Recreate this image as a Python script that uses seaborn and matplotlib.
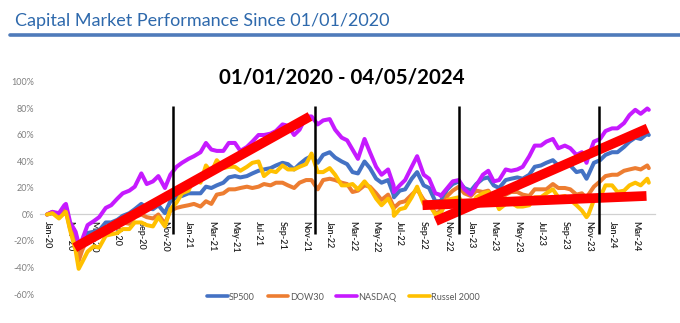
import matplotlib
matplotlib.use("Agg")
import matplotlib.pyplot as plt
import matplotlib.dates as mdates
from matplotlib.lines import Line2D
from matplotlib.ticker import PercentFormatter
import pandas as pd
import seaborn as sns

# ---------------- data (percent change since 01/01/2020) ----------------
dates = [
    # 2020
    "2020-01-01", "2020-01-15", "2020-02-01", "2020-02-15", "2020-02-19", "2020-03-01",
    "2020-03-15", "2020-03-23", "2020-04-01", "2020-04-15", "2020-05-01", "2020-05-15",
    "2020-06-01", "2020-06-15", "2020-07-01", "2020-07-15", "2020-08-01", "2020-08-15",
    "2020-09-01", "2020-09-15", "2020-10-01", "2020-10-15", "2020-11-01", "2020-11-15",
    "2020-12-01", "2020-12-15",
    # 2021
    "2021-01-01", "2021-01-15", "2021-02-01", "2021-02-15", "2021-03-01", "2021-03-15",
    "2021-04-01", "2021-04-15", "2021-05-01", "2021-05-15", "2021-06-01", "2021-06-15",
    "2021-07-01", "2021-07-15", "2021-08-01", "2021-08-15", "2021-09-01", "2021-09-15",
    "2021-10-01", "2021-10-15", "2021-11-01", "2021-11-15", "2021-12-01", "2021-12-15",
    # 2022
    "2022-01-01", "2022-01-15", "2022-02-01", "2022-02-15", "2022-03-01", "2022-03-15",
    "2022-04-01", "2022-04-15", "2022-05-01", "2022-05-15", "2022-06-01", "2022-06-15",
    "2022-06-16", "2022-07-01", "2022-07-15", "2022-08-01", "2022-08-15", "2022-09-01",
    "2022-09-15", "2022-10-01", "2022-10-12", "2022-10-15", "2022-11-01", "2022-11-15",
    "2022-12-01", "2022-12-15",
    # 2023
    "2023-01-01", "2023-01-15", "2023-02-01", "2023-02-15", "2023-03-01", "2023-03-15",
    "2023-04-01", "2023-04-15", "2023-05-01", "2023-05-15", "2023-06-01", "2023-06-15",
    "2023-07-01", "2023-07-15", "2023-08-01", "2023-08-15", "2023-09-01", "2023-09-15",
    "2023-10-01", "2023-10-15", "2023-10-27", "2023-11-01", "2023-11-15", "2023-12-01",
    "2023-12-15",
    # 2024
    "2024-01-01", "2024-01-15", "2024-02-01", "2024-02-15", "2024-03-01", "2024-03-15",
    "2024-04-01", "2024-04-05",
]

sp500 = [
    0, 1, -1, 4, 4, -9, -17, -31, -24, -14, -13, -12, -6, -6, -4, -1, 1, 4, 8, 5, 4, 7, 1, 10, 13, 14,
    16, 16, 16, 21, 20, 22, 24, 28, 29, 28, 29, 31, 33, 34, 35, 37, 39, 38, 34, 38, 42, 44, 39, 45,
    47, 43, 40, 38, 32, 31, 40, 35, 27, 24, 26, 15, 13, 18, 19, 27, 32, 22, 20, 10, 10, 10, 19, 23, 25, 20,
    18, 23, 27, 28, 22, 20, 26, 27, 28, 27, 30, 36, 37, 39, 41, 37, 39, 37, 32, 33, 27, 30, 39, 41, 45,
    47, 47, 51, 55, 58, 57, 61, 60,
]
dow30 = [
    0, 2, -1, 3, 3, -11, -19, -35, -27, -18, -17, -17, -11, -10, -10, -6, -7, -2, 0, -2, -3, 0, -7, 3, 5, 6,
    7, 8, 6, 10, 8, 15, 16, 19, 19, 20, 21, 20, 21, 23, 22, 24, 24, 22, 20, 24, 26, 26, 19, 26,
    27, 26, 24, 23, 17, 18, 22, 21, 16, 11, 15, 6, 5, 9, 10, 15, 19, 11, 8, 1, 2, 4, 14, 18, 21, 16,
    14, 18, 17, 18, 12, 10, 15, 17, 17, 15, 14, 19, 19, 19, 23, 20, 20, 19, 15, 16, 12, 15, 21, 25, 29,
    30, 30, 33, 34, 35, 34, 37, 35,
]
nasdaq = [
    0, 2, 1, 7, 8, -6, -13, -22, -19, -8, -5, -2, 5, 7, 12, 16, 18, 21, 31, 23, 25, 29, 20, 30, 36, 39,
    42, 44, 47, 54, 49, 48, 48, 54, 54, 48, 51, 55, 60, 60, 61, 63, 68, 67, 60, 64, 74, 74, 68, 71,
    72, 64, 58, 56, 49, 42, 57, 47, 36, 30, 34, 22, 17, 22, 26, 36, 44, 30, 27, 16, 15, 14, 20, 25, 26, 19,
    15, 22, 30, 33, 25, 26, 34, 33, 34, 36, 44, 52, 52, 55, 57, 50, 52, 50, 45, 47, 39, 44, 55, 57, 63,
    65, 65, 69, 75, 79, 76, 80, 79,
]
russell2000 = [
    0, 1, -3, 1, 2, -12, -27, -41, -36, -28, -24, -25, -16, -15, -14, -11, -11, -6, -6, -8, -9, -2, -9, 4, 9, 16,
    18, 27, 24, 37, 32, 41, 35, 36, 36, 33, 36, 39, 40, 29, 33, 32, 37, 34, 34, 36, 38, 46, 32, 32,
    35, 30, 22, 22, 23, 19, 25, 20, 12, 7, 12, 4, -1, 4, 5, 13, 21, 8, 8, 0, 1, 1, 11, 12, 13, 7,
    6, 13, 16, 17, 13, 4, 8, 9, 6, 6, 7, 13, 13, 16, 19, 13, 14, 11, 7, 3, -2, 0, 11, 13, 22,
    22, 17, 18, 22, 24, 22, 27, 24,
]
series_names = ["SP500", "DOW30", "NASDAQ", "Russel 2000"]

# hand-drawn annotations on the original chart
year_end_marks = ["2020-11-22", "2021-11-23", "2022-12-01", "2023-11-27"]
mark_low, mark_high = -15, 82
trend_x0 = ["2020-03-13", "2022-08-29", "2022-10-02"]
trend_y0 = [-25, 7, -5]
trend_x1 = ["2021-11-11", "2024-03-30", "2024-04-02"]
trend_y1 = [74, 14, 65]

chart_title = "01/01/2020 - 04/05/2024"
page_title = "Capital Market Performance Since 01/01/2020"

# ---------------- build frame ----------------
for s in (sp500, dow30, nasdaq, russell2000):
    assert len(s) == len(dates)
frames = []
for name, vals in zip(series_names, (sp500, dow30, nasdaq, russell2000)):
    frames.append(pd.DataFrame({"date": pd.to_datetime(dates), "value": vals, "index": name}))
df = pd.concat(frames, ignore_index=True)

# ---------------- style ----------------
sns.set_style("white")
plt.rcParams["font.family"] = ["Lato", "DejaVu Sans"]
plt.rcParams["axes.unicode_minus"] = False

colors = ["#4472C4", "#ED7D31", "#C61AFF", "#FFC000"]

W, H = 680, 323
fig = plt.figure(figsize=(W / 100, H / 100), dpi=100)
fig.patch.set_facecolor("white")
ax = fig.add_axes([40 / W, 1 - 294 / H, 615 / W, (294 - 82) / H])

sns.lineplot(data=df, x="date", y="value", hue="index", hue_order=series_names,
             palette=colors, linewidth=2.9, ax=ax, legend=True, estimator=None)

ax.set_xlim(pd.Timestamp("2019-12-14"), pd.Timestamp("2024-04-21"))
ax.set_ylim(-60, 100)
ax.set_yticks(range(-60, 101, 20))
ax.yaxis.set_major_formatter(PercentFormatter(100, decimals=0))
ax.set_xlabel("")
ax.set_ylabel("")
ax.set_axisbelow(True)

for side in ("top", "right", "left"):
    ax.spines[side].set_visible(False)
ax.spines["bottom"].set_position(("data", 0))
ax.spines["bottom"].set_color("#D0D0D0")
ax.spines["bottom"].set_linewidth(0.9)
ax.spines["bottom"].set_zorder(0.5)

ax.xaxis.set_major_locator(mdates.MonthLocator(bymonth=[1, 3, 5, 7, 9, 11]))
ax.xaxis.set_major_formatter(mdates.DateFormatter("%b-%y"))
ax.tick_params(axis="x", rotation=-90, labelsize=6.5, labelcolor="#202020",
               length=3, width=0.8, color="#D0D0D0", pad=1.5, direction="out")
for lbl in ax.get_xticklabels():
    lbl.set_fontweight("semibold")
ax.tick_params(axis="y", labelsize=6.5, labelcolor="#808080", length=0, pad=4)

# hand-drawn marks
ax.vlines(pd.to_datetime(year_end_marks), mark_low, mark_high, color="black",
          linewidth=1.8, zorder=6)
for x0, y0, x1, y1 in zip(trend_x0, trend_y0, trend_x1, trend_y1):
    ax.plot([pd.Timestamp(x0), pd.Timestamp(x1)], [y0, y1], color="#FF0000",
            linewidth=7, solid_capstyle="butt", zorder=5)

# legend
sns.move_legend(ax, "center", bbox_to_anchor=(0.505, 1 - 297 / H),
                bbox_transform=fig.transFigure, ncol=4, frameon=False, title=None,
                fontsize=6.5, handlelength=2.3, handletextpad=0.15, columnspacing=1.4,
                labelcolor="#595959")
for h in ax.get_legend().legend_handles:
    h.set_linewidth(2.6)

# titles
fig.text(15 / W, 1 - 26 / H, page_title, ha="left", va="baseline",
         fontsize=13, color="#2E69AC")
fig.add_artist(Line2D([10 / W, 1.0], [1 - 35 / H] * 2, color="#4F7BBA",
                      linewidth=2.6, transform=fig.transFigure))
fig.text(342 / W, 1 - 83 / H, chart_title, ha="center", va="baseline",
         fontsize=14.8, fontweight="bold", color="black")

fig.savefig("out.png", dpi=100, facecolor="white")
